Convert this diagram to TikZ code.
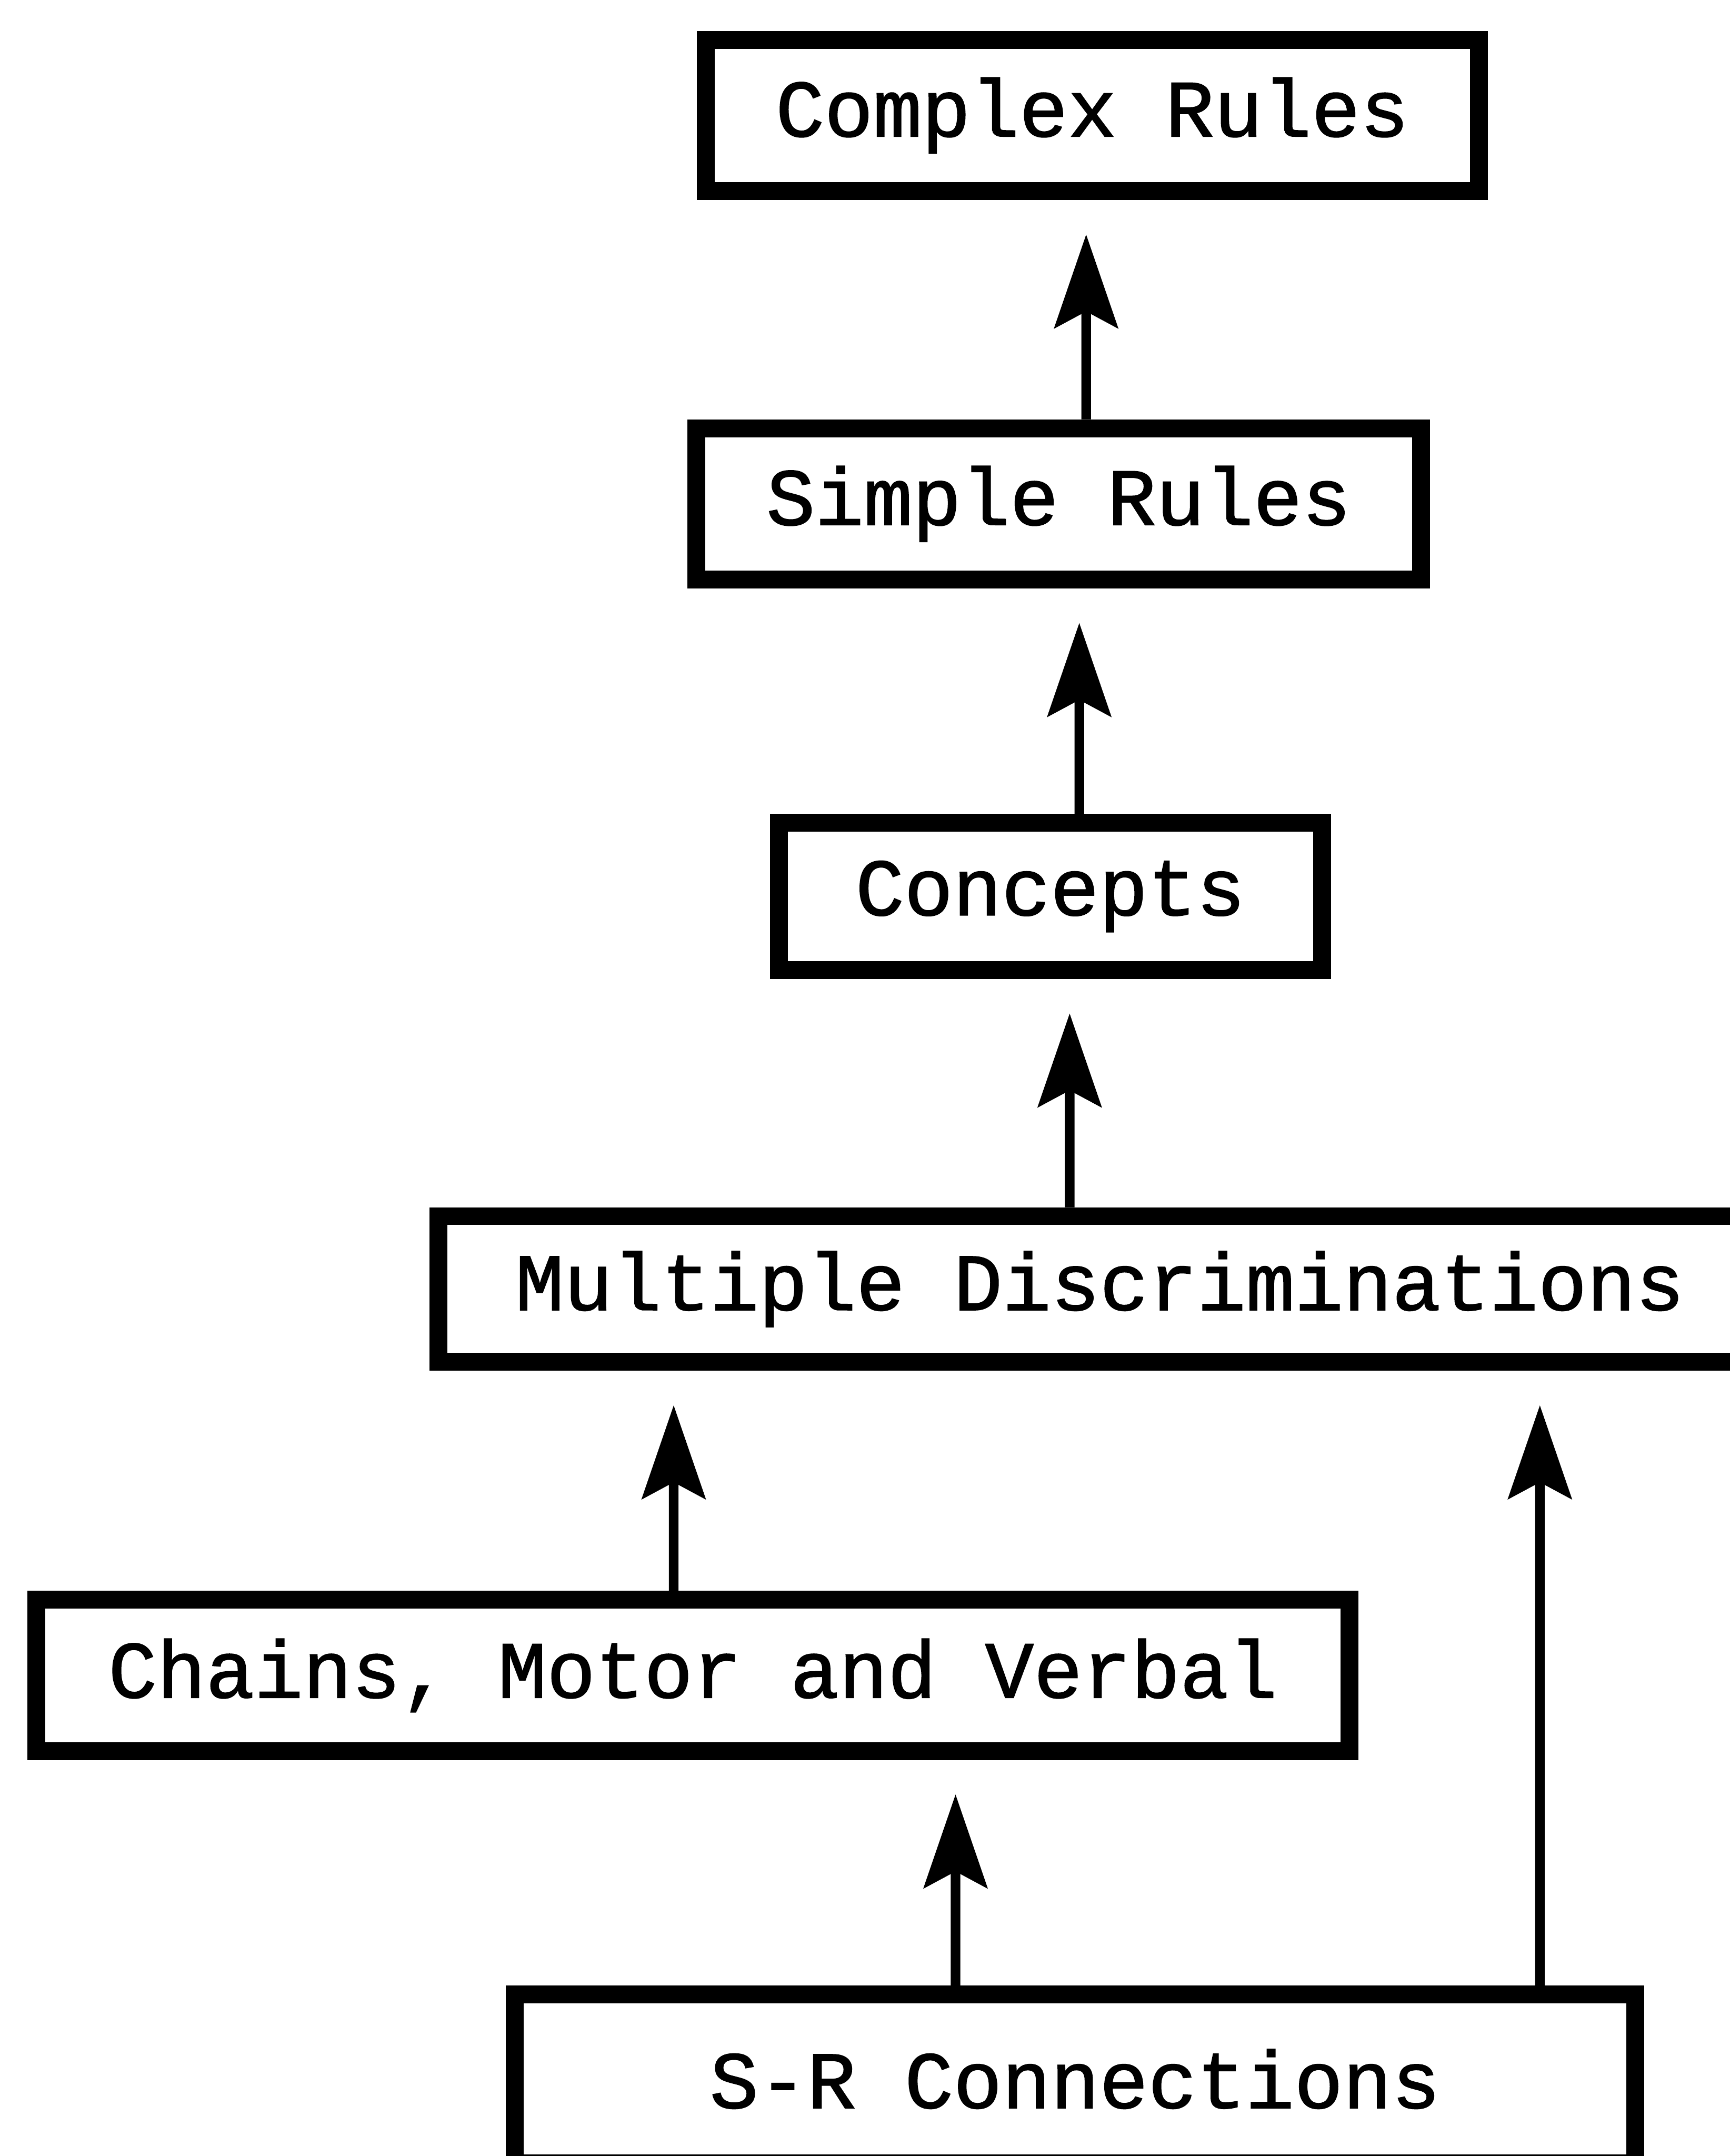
\documentclass[tikz,border=0pt]{standalone}
\usepackage{fontspec}
\setmonofont{Liberation Mono}[RawFeature={embolden=1.3}]
\usetikzlibrary{arrows.meta}

\begin{document}
\begin{tikzpicture}[
    level/.style={draw, line width=0.13cm, inner sep=0pt, minimum height=1.1cm, font=\ttfamily\fontsize{16.8}{20}\selectfont},
    up/.style={-{Stealth[length=0.68cm, width=0.46cm, inset=0.12cm]}, line width=0.07cm, shorten >=0.25cm}]
        \useasboundingbox (0,0) rectangle (12.58,15.68);
        \node[level, minimum width=5.62cm] (complex) at (7.945,14.84) {Complex Rules};
        \node[level, minimum width=5.27cm] (simple) at (7.70,12.015) {Simple Rules};
        \node[level, minimum width=3.95cm, minimum height=1.07cm] (concepts) at (7.64,9.16) {Concepts};
        \node[level, minimum width=9.62cm, minimum height=1.06cm] (multiple) at (8.00,6.305) {Multiple Discriminations};
        \node[level, minimum width=9.55cm] (chains) at (5.04,3.495) {Chains, Motor and Verbal};
        \node[level, minimum width=8.15cm, minimum height=1.23cm] (sr) at (7.82,0.56) {S-R Connections};
        \draw[up] ([xshift=0.20cm]simple.north) -- ([xshift=-0.045cm]complex.south);
        \draw[up] ([xshift=0.21cm]concepts.north) -- ([xshift=0.15cm]simple.south);
        \draw[up] ([xshift=-0.22cm]multiple.north) -- ([xshift=0.14cm]concepts.south);
        \draw[up] ([xshift=-0.14cm]chains.north) -- ([xshift=-3.10cm]multiple.south);
        \draw[up] ([xshift=-0.87cm]sr.north) -- ([xshift=1.91cm]chains.south);
        \draw[up] ([xshift=3.38cm]sr.north) -- ([xshift=3.20cm]multiple.south);
\end{tikzpicture}
\end{document}
